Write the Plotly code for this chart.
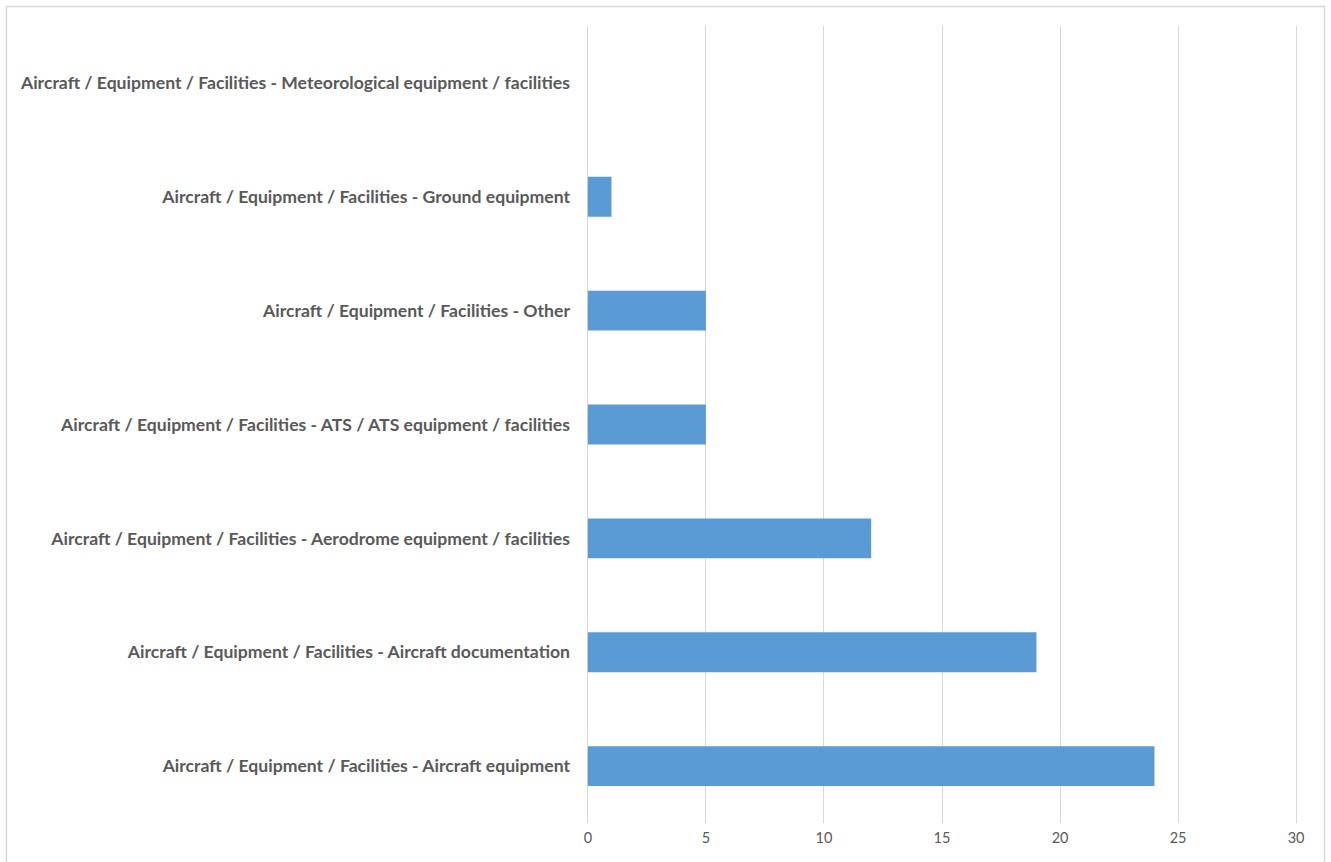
import plotly.graph_objects as go

# Incident categories (top to bottom as displayed) and their counts
categories = [
    "Aircraft / Equipment / Facilities - Meteorological equipment / facilities",
    "Aircraft / Equipment / Facilities - Ground equipment",
    "Aircraft / Equipment / Facilities - Other",
    "Aircraft / Equipment / Facilities - ATS / ATS equipment / facilities",
    "Aircraft / Equipment / Facilities - Aerodrome equipment / facilities",
    "Aircraft / Equipment / Facilities - Aircraft documentation",
    "Aircraft / Equipment / Facilities - Aircraft equipment",
]
counts = [0, 1, 5, 5, 12, 19, 24]
x_ticks = [0, 5, 10, 15, 20, 25, 30]

W, H = 1331, 862
L, R, T, B = 586, 33, 26, 39
plot_w = W - L - R
plot_h = H - T - B

fig = go.Figure(
    go.Bar(
        x=counts,
        y=categories,
        orientation="h",
        marker=dict(color="#5b9bd5", line=dict(width=0)),
        width=0.35,
    )
)

fig.update_layout(
    width=W,
    height=H,
    margin=dict(l=L, r=R, t=T, b=B, pad=0),
    paper_bgcolor="white",
    plot_bgcolor="white",
    showlegend=False,
    font=dict(family="Lato, Carlito, Calibri, sans-serif", size=14, color="#595959"),
    xaxis=dict(
        # small padding so the gridlines at 0 and 30 are kept
        range=[-0.08, 30.08],
        tickvals=x_ticks,
        showgrid=True,
        gridcolor="#d9d9d9",
        gridwidth=1,
        zeroline=False,
        showline=False,
        ticks="",
        ticklabelstandoff=4,
        tickfont=dict(family="Lato, Carlito, sans-serif", size=14.5, color="#595959"),
        fixedrange=True,
    ),
    yaxis=dict(
        autorange="reversed",
        showgrid=False,
        zeroline=False,
        showline=False,
        ticks="",
        ticklabelstandoff=15,
        tickfont=dict(family="Lato, Carlito, sans-serif", size=17.6, color="#595959", weight="bold"),
        fixedrange=True,
    ),
)

# Light outer frame around the chart area
def px_x(p):
    return (p - L) / plot_w

def px_y(p):
    return 1 - (p - T) / plot_h

fig.add_shape(
    type="rect",
    xref="paper", yref="paper",
    x0=px_x(6.5), x1=px_x(1324.5),
    y0=px_y(880), y1=px_y(6.5),
    line=dict(color="#d9d9d9", width=1.5),
    fillcolor="rgba(0,0,0,0)",
    layer="below",
)

fig.write_html("out.html")
